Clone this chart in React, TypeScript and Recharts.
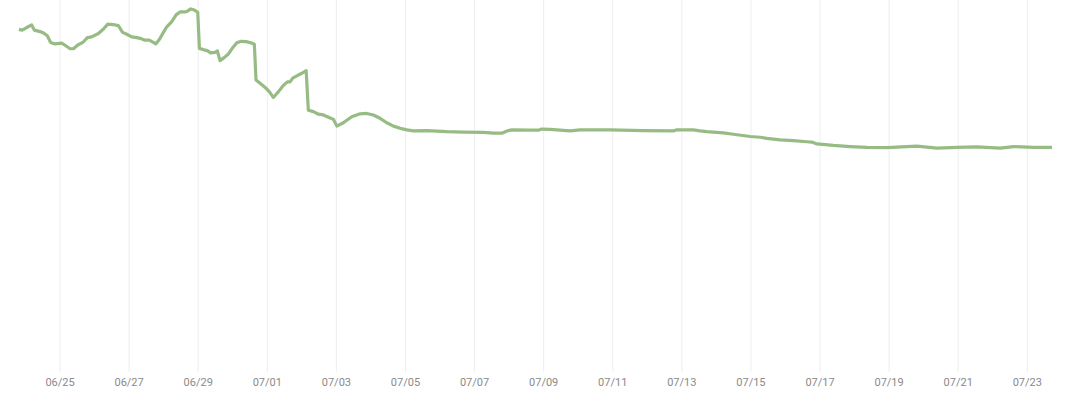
import { LineChart, Line, XAxis, YAxis, CartesianGrid } from 'recharts';

// sample times (MM/DD HH:mm) and values
const times = [
  '06/23 19:30', '06/23 21:40', '06/24 00:50', '06/24 04:20', '06/24 06:10', '06/24 10:10',
  '06/24 12:20', '06/24 15:10', '06/24 17:30', '06/24 20:30', '06/25 01:10', '06/25 04:00',
  '06/25 07:00', '06/25 09:20', '06/25 12:20', '06/25 16:10', '06/25 19:00', '06/25 22:00',
  '06/26 02:40', '06/26 06:10', '06/26 09:10', '06/26 13:00', '06/26 16:30', '06/26 19:30',
  '06/26 22:20', '06/27 01:50', '06/27 05:20', '06/27 07:40', '06/27 11:00', '06/27 14:00',
  '06/27 16:50', '06/27 18:30', '06/27 21:00', '06/27 23:50', '06/28 02:10', '06/28 05:40',
  '06/28 08:40', '06/28 11:20', '06/28 14:50', '06/28 16:30', '06/28 18:50', '06/28 21:20',
  '06/28 23:40', '06/29 00:50', '06/29 04:00', '06/29 06:20', '06/29 08:40', '06/29 11:40',
  '06/29 13:20', '06/29 15:10', '06/29 18:00', '06/29 21:00', '06/29 23:40', '06/30 02:50',
  '06/30 05:50', '06/30 09:20', '06/30 12:30', '06/30 15:00', '06/30 16:10', '06/30 19:00',
  '06/30 22:30', '07/01 01:30', '07/01 04:10', '07/01 07:40', '07/01 10:50', '07/01 14:00',
  '07/01 15:50', '07/01 17:40', '07/01 20:30', '07/01 23:55', '07/02 03:00', '07/02 04:30',
  '07/02 08:00', '07/02 11:30', '07/02 15:00', '07/02 18:30', '07/02 22:00', '07/03 00:20',
  '07/03 04:50', '07/03 10:40', '07/03 16:30', '07/03 21:10', '07/04 01:40', '07/04 06:20',
  '07/04 11:00', '07/04 15:40', '07/04 20:20', '07/05 01:00', '07/05 05:30', '07/05 14:50',
  '07/06 04:40', '07/06 16:20', '07/07 06:10', '07/07 13:10', '07/07 19:00', '07/07 22:30',
  '07/08 01:50', '07/08 14:40', '07/08 20:20', '07/08 22:40', '07/09 04:30', '07/09 18:20',
  '07/10 01:20', '07/10 22:10', '07/11 21:20', '07/12 18:10', '07/12 20:30', '07/13 08:00',
  '07/13 12:40', '07/13 17:20', '07/14 04:50', '07/14 11:50', '07/14 23:30', '07/15 06:30',
  '07/15 11:10', '07/15 20:20', '07/16 05:30', '07/16 14:50', '07/16 18:20', '07/16 21:50',
  '07/17 09:20', '07/17 21:00', '07/18 08:40', '07/18 22:30', '07/19 19:20', '07/20 09:10',
  '07/20 23:10', '07/21 13:00', '07/22 05:10', '07/22 14:30', '07/23 04:20', '07/23 17:10',
];

const values = [
  92.1, 91.9, 92.6, 93.3, 91.9, 91.5,
  91.2, 90.4, 88.6, 88.2, 88.4, 87.7,
  86.9, 86.9, 87.9, 88.7, 89.9, 90.1,
  91.0, 92.2, 93.5, 93.4, 93.1, 91.3,
  90.8, 90.1, 89.9, 89.7, 89.2, 89.2,
  88.6, 88.2, 89.4, 91.3, 92.8, 94.2,
  96.0, 96.8, 96.8, 97.0, 97.6, 97.3,
  96.7, 87.0, 86.6, 86.4, 85.8, 85.9,
  86.3, 83.7, 84.5, 85.5, 87.0, 88.5,
  88.9, 88.8, 88.5, 88.1, 78.5, 77.6,
  76.5, 75.3, 73.8, 75.3, 76.9, 78.0,
  78.0, 79.0, 79.6, 80.3, 81.0, 70.4,
  70.0, 69.3, 69.1, 68.5, 67.9, 66.1,
  67.0, 68.6, 69.4, 69.5, 69.1, 68.2,
  67.0, 66.1, 65.5, 65.1, 64.8, 64.9,
  64.6, 64.5, 64.4, 64.2, 64.2, 64.8,
  65.1, 65.0, 65.0, 65.3, 65.2, 64.8,
  65.1, 65.1, 64.9, 64.8, 65.1, 65.1,
  64.8, 64.6, 64.3, 63.9, 63.3, 63.1,
  62.8, 62.4, 62.2, 61.9, 61.8, 61.3,
  60.9, 60.6, 60.4, 60.3, 60.7, 60.2,
  60.4, 60.5, 60.2, 60.6, 60.4, 60.4,
];

const tickDates = [
  '06/25', '06/27', '06/29', '07/01', '07/03', '07/05', '07/07', '07/09',
  '07/11', '07/13', '07/15', '07/17', '07/19', '07/21', '07/23',
];

function parseTime(s: string) {
  const [date, clock = '00:00'] = s.split(' ');
  const [mm, dd] = date.split('/').map(Number);
  const [h, m] = clock.split(':').map(Number);
  return Date.UTC(2024, mm - 1, dd, h, m);
}

function fmtTick(t: number) {
  const d = new Date(t);
  const mm = String(d.getUTCMonth() + 1).padStart(2, '0');
  const dd = String(d.getUTCDate()).padStart(2, '0');
  return `${mm}/${dd}`;
}

const data = times.map((t, i) => ({ t: parseTime(t), v: values[i] }));
const ticks = tickDates.map((d) => parseTime(d));
const tMin = data[0].t;
const tMax = data[data.length - 1].t;

// grid lines only at the tick dates, not at the plot edges
function gridX({ offset }: any) {
  if (!offset) return [];
  return ticks.map((t) => offset.left + ((t - tMin) / (tMax - tMin)) * offset.width);
}

export default function App() {
  return (
    <div style={{ position: 'absolute', left: 0, top: 0, width: 1080, height: 410, background: '#fff' }}>
      <LineChart width={1080} height={410} data={data} margin={{ top: 0, right: 28, bottom: 0, left: 19 }}>
        <CartesianGrid horizontal={false} stroke="#eeeeee" verticalCoordinatesGenerator={gridX} />
        <XAxis
          dataKey="t"
          type="number"
          scale="time"
          domain={[tMin, tMax]}
          ticks={ticks}
          tickFormatter={fmtTick}
          axisLine={false}
          tickLine={false}
          tickSize={4}
          tickMargin={2}
          height={38}
          tick={{ fontSize: 11, fill: '#8a8a8a', fontFamily: 'Roboto, sans-serif' }}
        />
        <YAxis hide domain={[0, 100]} />
        <Line
          type="linear"
          dataKey="v"
          stroke="#96bc84"
          strokeWidth={3.2}
          strokeLinejoin="round"
          dot={false}
          isAnimationActive={false}
        />
      </LineChart>
    </div>
  );
}
